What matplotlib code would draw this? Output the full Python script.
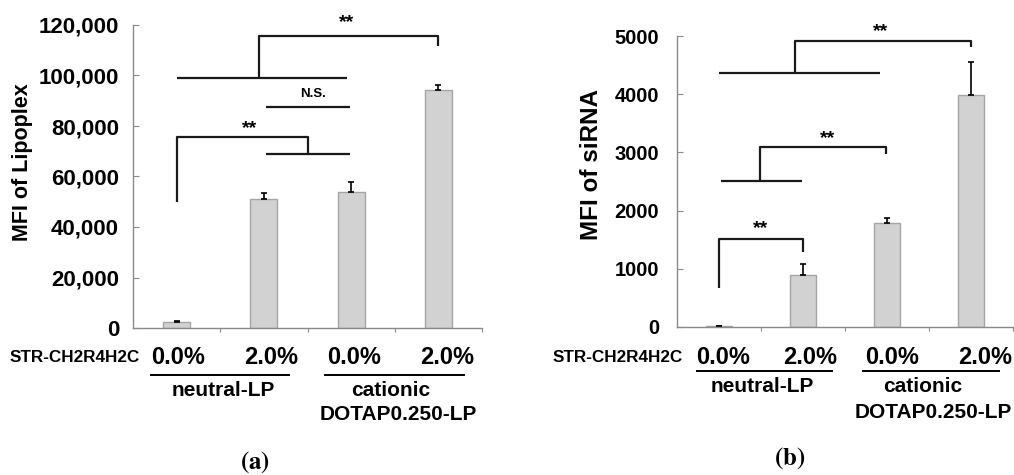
import matplotlib
matplotlib.use("Agg")
import matplotlib.pyplot as plt
from matplotlib.ticker import FuncFormatter
from matplotlib.transforms import blended_transform_factory

plt.rcParams['font.family'] = ['Liberation Sans', 'DejaVu Sans']
plt.rcParams['font.weight'] = 'bold'
plt.rcParams['mathtext.fontset'] = 'stix'

# data
groups = ['0.0%', '2.0%', '0.0%', '2.0%']
lipoplex_mfi = [2400, 51100, 53900, 94300]
lipoplex_err = [200, 2400, 3900, 1900]
sirna_mfi = [12, 900, 1790, 3980]
sirna_err = [5, 180, 90, 570]

# significance brackets (x in category units, y in data units)
lipoplex_lines = [
    ([0.94, 0.94, 3.0, 3.0], [99000, 115600, 115600, 111700]),
    ([0.0, 1.95], [99000, 99000]),
    ([1.02, 1.99], [87500, 87500]),
    ([0.0, 0.0, 1.51, 1.51], [50000, 75600, 75600, 68900]),
    ([1.02, 1.99], [68900, 68900]),
]
lipoplex_marks = [(1.95, 120800, '**'), (0.84, 78800, '**'), (1.56, 92500, 'N.S.')]

sirna_lines = [
    ([0.90, 0.90, 3.0, 3.0], [4360, 4910, 4910, 4810]),
    ([0.0, 1.92], [4360, 4360]),
    ([0.49, 0.49, 1.99, 1.99], [2510, 3090, 3090, 2970]),
    ([0.02, 0.99], [2510, 2510]),
    ([0.0, 0.0, 1.0, 1.0], [670, 1510, 1510, 1290]),
]
sirna_marks = [(1.92, 5070, '**'), (1.29, 3240, '**'), (0.49, 1690, '**')]

W, H = 1014, 475
fig = plt.figure(figsize=(W / 100, H / 100), dpi=100)

def fy(px):
    return 1 - px / H

def panel(rect, values, errs, ymax, ystep, lines, marks, ylabel, tick_fmt,
          lab_y, label_x, tick_pad, ylabel_xy, ylabel_size, bar_w, letter, letter_x, letter_y,
          under, under_y, txt_pos):
    ax = fig.add_axes(rect)
    x = list(range(len(values)))
    ax.bar(x, values, width=bar_w, color='#d2d2d2', edgecolor='#a5a5a5', linewidth=1.0,
           yerr=[[0] * len(errs), errs], error_kw=dict(ecolor='black', elinewidth=1.2, capsize=2.5, capthick=1.2))
    ax.set_xlim(-0.5, 3.5)
    ax.set_ylim(0, ymax)
    ax.set_yticks(range(0, ymax + 1, ystep))
    ax.yaxis.set_major_formatter(FuncFormatter(tick_fmt))
    ax.set_xticks([0.5, 1.5, 2.5, 3.5])
    ax.set_xticklabels([])
    for s in ['top', 'right']:
        ax.spines[s].set_visible(False)
    for s in ['left', 'bottom']:
        ax.spines[s].set_color('#8a8a8a')
        ax.spines[s].set_linewidth(1.0)
    ax.tick_params(axis='y', direction='in', length=4, color='#8a8a8a', pad=tick_pad,
                   labelsize=ylabel_size[1])
    ax.tick_params(axis='x', direction='out', length=3, color='#8a8a8a')
    ax.set_ylabel(ylabel, fontsize=ylabel_size[0], fontweight='bold')
    ax.yaxis.set_label_coords(*ylabel_xy)

    for xs, ys in lines:
        ax.plot(xs, ys, color='#1a1a1a', linewidth=1.6, clip_on=False, solid_capstyle='butt')
    for mx, my, t in marks:
        ax.text(mx, my, t, ha='center', va='center', fontsize=14 if t == '**' else 9.5,
                fontweight='bold')

    tr = blended_transform_factory(ax.transData, fig.transFigure)
    for lx, g in zip(label_x, groups):
        ax.text(lx, fy(lab_y), g, transform=tr, ha='center', va='center', fontsize=17,
                fontweight='bold')
    for x0, x1 in under:
        ax.plot([x0, x1], [fy(under_y), fy(under_y)], transform=tr, color='black',
                linewidth=1.4, clip_on=False)
    (nx, ny), (cx, cy), (dx, dy) = txt_pos
    ax.text(nx, fy(ny), 'neutral-LP', transform=tr, ha='center', va='center', fontsize=15)
    ax.text(cx, fy(cy), 'cationic', transform=tr, ha='center', va='center', fontsize=15)
    ax.text(dx, fy(dy), 'DOTAP0.250-LP', transform=tr, ha='center', va='center', fontsize=15)
    fig.text(letter_x / W, fy(letter_y), r'$(\mathbf{%s})$' % letter, ha='center', va='center',
             fontsize=18)
    return ax

panel([133 / W, fy(328), 349 / W, 303 / H], lipoplex_mfi, lipoplex_err, 120000, 20000,
      lipoplex_lines, lipoplex_marks, 'MFI of Lipoplex', lambda v, p: f'{int(v):,}',
      358, [0.02, 1.08, 2.03, 3.1], 10, (-0.287, 0.548), (15.5, 16), 0.31, 'a', 255, 462,
      [(-0.29, 1.29), (1.70, 3.29)], 375, [(0.53, 390), (2.45, 390), (2.54, 415)])
fig.text(10 / W, fy(358), 'STR-CH2R4H2C', ha='left', va='center', fontsize=12.3, fontweight='bold')

panel([677 / W, fy(327), 336 / W, 291 / H], sirna_mfi, sirna_err, 5000, 1000,
      sirna_lines, sirna_marks, 'MFI of siRNA', lambda v, p: f'{int(v)}',
      358, [0.05, 1.08, 2.06, 3.17], 13, (-0.22, 0.557), (17.5, 14.5), 0.32, 'b', 790, 458,
      [(-0.26, 1.35), (1.71, 3.33)], 371, [(0.52, 387), (2.43, 387), (2.55, 412)])
fig.text(553 / W, fy(358), 'STR-CH2R4H2C', ha='left', va='center', fontsize=12.3, fontweight='bold')

fig.savefig('out.png', dpi=100)
